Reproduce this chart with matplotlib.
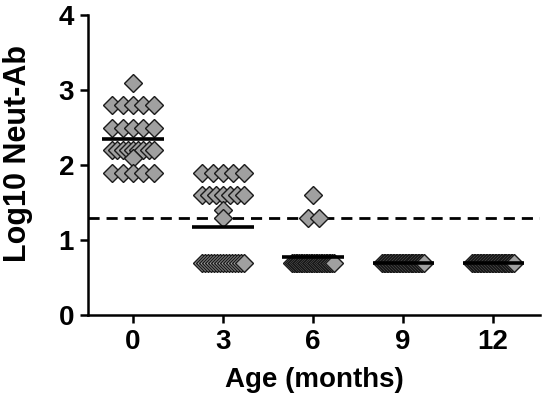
import numpy as np
import matplotlib
matplotlib.use("Agg")
import matplotlib.pyplot as plt

plt.rcParams['font.family'] = ['Liberation Sans', 'DejaVu Sans']
plt.rcParams['font.weight'] = 'bold'

# ---- data ----
ages = ["0", "3", "6", "9", "12"]
g0 = [3.1] + [2.8] * 5 + [2.5] * 5 + [2.2] * 9 + [2.1] + [1.9] * 5
g3 = [1.9] * 5 + [1.6] * 7 + [1.4] + [1.3] + [0.7] * 15
g6 = [1.6] + [1.3] * 2 + [0.7] * 26
g9 = [0.7] * 29
g12 = [0.7] * 29
groups = [g0, g3, g6, g9, g12]
cutoff = 1.3

fig = plt.figure(figsize=(5.45, 4.03), dpi=100)
ax = fig.add_axes([88 / 545, 88 / 403, (540 - 88) / 545, (315 - 15) / 403])

step = 0.12
maxhalf = 0.23
for i, vals in enumerate(groups):
    vals = np.array(vals)
    xs = np.zeros_like(vals, dtype=float)
    for v in np.unique(vals):
        idx = np.where(vals == v)[0]
        n = len(idx)
        half = min((n - 1) * step / 2, maxhalf)
        xs[idx] = np.linspace(-half, half, n) if n > 1 else [0.0]
    ax.plot(i + xs, vals, linestyle='none', marker='D', markersize=9,
            markerfacecolor='#a0a0a0', markeredgecolor='#1a1a1a',
            markeredgewidth=1.0, zorder=3, clip_on=False)
    m = vals.mean()
    ax.plot([i - 0.34, i + 0.34], [m, m], color='black', lw=2.6, zorder=4,
            solid_capstyle='butt')

ax.axhline(cutoff, color='black', lw=2.0, dashes=(4, 2.5), zorder=2)

ax.set_xlim(-0.5, 4.52)
ax.set_ylim(0, 4)
ax.set_xticks(range(len(ages)))
ax.set_xticklabels(ages)
ax.set_yticks([0, 1, 2, 3, 4])
for s in ['top', 'right']:
    ax.spines[s].set_visible(False)
for s in ['left', 'bottom']:
    ax.spines[s].set_linewidth(1.8)
ax.tick_params(axis='both', width=1.8, length=6, labelsize=20, pad=4)
for lab in ax.get_xticklabels() + ax.get_yticklabels():
    lab.set_fontweight('bold')
ax.set_xlabel('Age (months)', fontsize=20, fontweight='bold', labelpad=9)
ax.set_ylabel('Log10 Neut-Ab', fontsize=22, fontweight='bold')
ax.yaxis.set_label_coords(-0.122, 0.54)

fig.savefig('out.png', dpi=100)
